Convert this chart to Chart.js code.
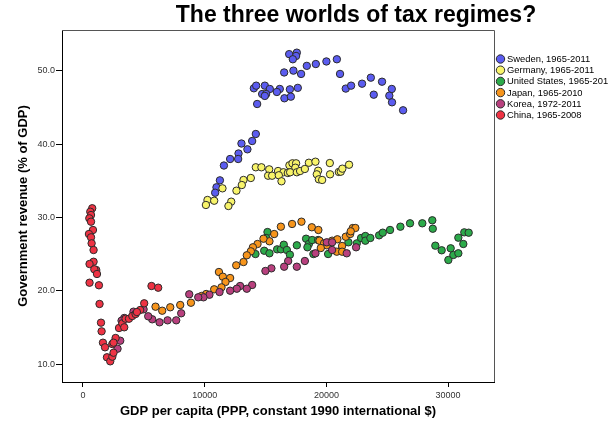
<!DOCTYPE html>
<html>
<head>
<meta charset="utf-8">
<title>The three worlds of tax regimes?</title>
<script src="https://cdn.jsdelivr.net/npm/chart.js@4.4.1/dist/chart.umd.min.js"></script>
<style>
    html, body { margin: 0; padding: 0; background: #fff; }
    #wrap { width: 608px; height: 422px; }
</style>
</head>
<body>
<div id="wrap"><canvas id="chart" width="608" height="422"></canvas></div>
<script>
// ============================================
// DATA
// ============================================

const chartTitle = 'The three worlds of tax regimes?';
const xAxisTitle = 'GDP per capita (PPP, constant 1990 international $)';
const yAxisTitle = 'Government revenue (% of GDP)';

const seriesLabels = [
    'Sweden, 1965-2011',
    'Germany, 1965-2011',
    'United States, 1965-2011',
    'Japan, 1965-2010',
    'Korea, 1972-2011',
    'China, 1965-2008'
];
const seriesColors = ['#5b5cf0', '#f8f46a', '#2caa4a', '#f7951c', '#b8407e', '#ee3344'];

const xTicks = [0, 10000, 20000, 30000];
const yTicks = [10, 20, 30, 40, 50];

const swedenX = [16940, 17570, 17510, 17240, 18390, 19130, 20000, 20860, 16530, 17290, 17920, 21120,
    14040, 14230, 14940, 15350, 16170, 17000, 17650, 14720, 15050, 14940, 15930, 16550, 17080, 14310,
    21590, 22030, 22930, 23650, 24570, 25370, 23890, 25170, 25390, 26300,
    14200, 13900, 13020, 13510, 12780, 12750, 12090, 11580, 11250, 10970, 10860];
const swedenY = [52.3, 52.5, 52.05, 51.6, 50.7, 50.95, 51.3, 51.6, 49.8, 50.05, 49.6, 49.6,
    47.64, 48.0, 48.0, 47.55, 47.55, 47.5, 47.7, 46.86, 46.86, 46.6, 47.14, 46.28, 46.5, 45.5,
    47.6, 48.0, 48.27, 49.09, 48.54, 47.55, 46.77, 46.63, 45.73, 44.64,
    41.41, 40.45, 40.11, 39.32, 38.75, 38.0, 38.0, 37.11, 35.09, 34.14, 33.4];

const germanyX = [14200, 14660, 15300, 15210, 15540, 16030, 16470, 16090, 16310, 16830,
    16960, 17210, 17510, 17450, 17020, 17570, 17840, 18230, 18560, 19100,
    20280, 19320, 19210, 19380, 19650, 20300, 21020, 21180, 21310, 21860,
    13790, 13190, 13050, 12610, 11460, 10230, 10780, 10100, 12180, 11950];
const germanyY = [36.87, 36.87, 36.59, 35.72, 35.72, 36.36, 36.19, 35.78, 34.96, 36.09,
    37.14, 37.41, 37.41, 36.81, 36.19, 36.19, 36.36, 36.64, 37.49, 37.63,
    37.45, 36.40, 35.91, 35.23, 35.14, 35.91, 36.23, 36.27, 36.68, 37.22,
    35.41, 35.14, 34.45, 33.68, 34.0, 32.41, 32.31, 31.73, 32.18, 31.59];

const usX = [15160, 15050, 14170, 14890, 15320, 15950, 16260, 16500, 16750, 17000,
    17570, 18330, 18560, 18830, 18440, 18930, 19320, 20140, 21230, 21810,
    22500, 22850, 23200, 23200, 23610, 24330, 24630, 25230, 26080, 26870,
    27880, 28700, 28740, 28950, 29470, 30210, 30020, 30430, 30840, 31250,
    30840, 31330, 31690];
const usY = [28.04, 27.23, 25.04, 25.49, 25.14, 25.68, 25.68, 26.31, 25.59, 24.95,
    26.23, 27.13, 26.41, 26.95, 25.96, 25.04, 26.95, 25.04, 25.59, 26.64,
    26.50, 27.23, 27.50, 26.86, 27.23, 27.59, 27.95, 28.32, 28.77, 29.23,
    29.23, 29.64, 28.49, 26.18, 25.55, 25.82, 24.23, 24.91, 25.14, 26.41,
    27.27, 28.0, 27.95];

const japanX = [16260, 17180, 17950, 18800, 19340, 15710, 15320, 14830, 14340, 13960,
    13790, 13460, 13190, 12590, 11170, 11490, 12090, 11710, 11380, 10780,
    10120, 9740, 8870, 7990, 7170, 6510, 5960, 19430, 19810, 20470,
    20900, 21590, 21950, 22170, 22380, 22000, 21290, 20850, 21290, 20030,
    19540];
const japanY = [28.77, 29.14, 29.45, 28.69, 28.32, 27.77, 26.78, 27.13, 26.41, 25.96,
    25.41, 24.87, 23.95, 23.50, 22.59, 21.95, 21.77, 21.23, 20.50, 20.23,
    19.59, 19.32, 18.40, 18.09, 17.78, 17.31, 17.86, 26.86, 26.50, 26.86,
    27.05, 27.40, 27.77, 28.59, 28.59, 28.14, 26.14, 25.36, 25.36, 26.23,
    25.86];

const koreaX = [20030, 20470, 20470, 19100, 18230, 17570, 16860, 16530, 15480, 14990,
    21670, 22440, 13900, 13460, 12910, 12640, 12090, 11220, 10390, 9900,
    9470, 8730, 8070, 7660, 6950, 6290, 5690, 5360, 4980, 4150,
    3390, 3170, 2840, 3060];
const koreaY = [26.64, 26.64, 25.59, 25.14, 24.09, 23.31, 24.09, 23.31, 23.09, 22.73,
    25.14, 25.96, 20.82, 20.31, 20.68, 20.31, 20.04, 19.86, 19.49, 19.14,
    19.14, 19.55, 16.96, 16.0, 16.0, 15.73, 16.14, 16.55, 17.50, 17.18,
    16.32, 15.95, 12.13, 13.22];

const chinaX = [760, 600, 660, 520, 660, 820, 490, 660, 710, 870,
    870, 540, 1090, 930, 1150, 540, 1310, 1360, 1480, 1530,
    1640, 1810, 1970, 2240, 2410, 2510, 2410, 2680, 2510, 2960,
    3230, 3500, 3780, 4050, 4320, 4700, 5030, 5630, 6180, 4430,
    3390];
const chinaY = [31.28, 30.81, 30.36, 29.91, 29.45, 28.32, 27.77, 27.32, 26.50, 25.59,
    23.99, 23.68, 22.86, 22.96, 22.32, 21.13, 20.78, 18.23, 15.68, 14.50,
    12.95, 12.32, 10.96, 10.41, 11.04, 11.58, 12.77, 13.59, 12.95, 14.95,
    15.59, 16.22, 16.22, 16.59, 16.86, 17.41, 18.32, 20.68, 20.45, 17.13,
    15.05];

const seriesX = [swedenX, germanyX, usX, japanX, koreaX, chinaX];
const seriesY = [swedenY, germanyY, usY, japanY, koreaY, chinaY];

// ============================================
// CHART
// ============================================

const FONT = '"Liberation Sans", Arial, sans-serif';

const datasets = seriesLabels.map((label, i) => ({
    label: label,
    data: seriesX[i].map((x, k) => ({ x: x, y: seriesY[i][k] })),
    backgroundColor: seriesColors[i],
    borderColor: '#2b2b2b',
    borderWidth: 1,
    pointRadius: 3.7,
    pointHoverRadius: 3.7,
    order: seriesLabels.length - i
}));

// title, legend and the grey top/right frame, SPSS style
const decorPlugin = {
    id: 'decor',
    afterDraw(chart) {
        const ctx = chart.ctx;
        const area = chart.chartArea;
        ctx.save();

        ctx.strokeStyle = '#555';
        ctx.lineWidth = 1;
        ctx.beginPath();
        ctx.moveTo(area.left, area.top + 0.5);
        ctx.lineTo(area.right + 0.5, area.top + 0.5);
        ctx.lineTo(area.right + 0.5, area.bottom);
        ctx.stroke();

        ctx.fillStyle = '#000';
        ctx.font = 'bold 23px ' + FONT;
        ctx.textAlign = 'center';
        ctx.textBaseline = 'middle';
        ctx.fillText(chartTitle, 356, 16);

        ctx.font = '9.4px ' + FONT;
        ctx.textAlign = 'left';
        seriesLabels.forEach((label, i) => {
            const y = 59 + i * 11.2;
            ctx.beginPath();
            ctx.arc(500.5, y, 4.2, 0, Math.PI * 2);
            ctx.fillStyle = seriesColors[i];
            ctx.fill();
            ctx.strokeStyle = '#2b2b2b';
            ctx.stroke();
            ctx.fillStyle = '#000';
            ctx.fillText(label, 507, y + 0.5);
        });

        ctx.restore();
    }
};

new Chart(document.getElementById('chart'), {
    type: 'scatter',
    data: { datasets: datasets },
    plugins: [decorPlugin],
    options: {
        responsive: false,
        animation: false,
        layout: { padding: { top: 30, right: 114, left: 0, bottom: 0 } },
        plugins: {
            legend: { display: false },
            title: { display: false },
            tooltip: { enabled: false }
        },
        scales: {
            x: {
                type: 'linear',
                min: -1724,
                max: 33770,
                afterFit: scale => { scale.height = 40; },
                afterBuildTicks: axis => { axis.ticks = xTicks.map(v => ({ value: v })); },
                grid: { drawOnChartArea: false, drawTicks: true, tickLength: 5, color: '#000' },
                border: { display: true, color: '#000', width: 1 },
                ticks: {
                    color: '#333',
                    padding: 3,
                    maxRotation: 0,
                    font: { family: FONT, size: 9 },
                    callback: v => String(v)
                },
                title: {
                    display: true,
                    text: xAxisTitle,
                    color: '#000',
                    padding: { top: 0, bottom: 3 },
                    font: { family: FONT, size: 13, weight: 'bold' }
                }
            },
            y: {
                type: 'linear',
                min: 7.59,
                max: 55.59,
                afterFit: scale => { scale.width = 62; },
                afterBuildTicks: axis => { axis.ticks = yTicks.map(v => ({ value: v })); },
                grid: { drawOnChartArea: false, drawTicks: true, tickLength: 6, color: '#000' },
                border: { display: true, color: '#000', width: 1 },
                ticks: {
                    color: '#333',
                    padding: 1,
                    font: { family: FONT, size: 9 },
                    callback: v => v.toFixed(1)
                },
                title: {
                    display: true,
                    text: yAxisTitle,
                    color: '#000',
                    padding: { top: 16, bottom: 0 },
                    font: { family: FONT, size: 13, weight: 'bold' }
                }
            }
        }
    }
});
</script>
</body>
</html>
